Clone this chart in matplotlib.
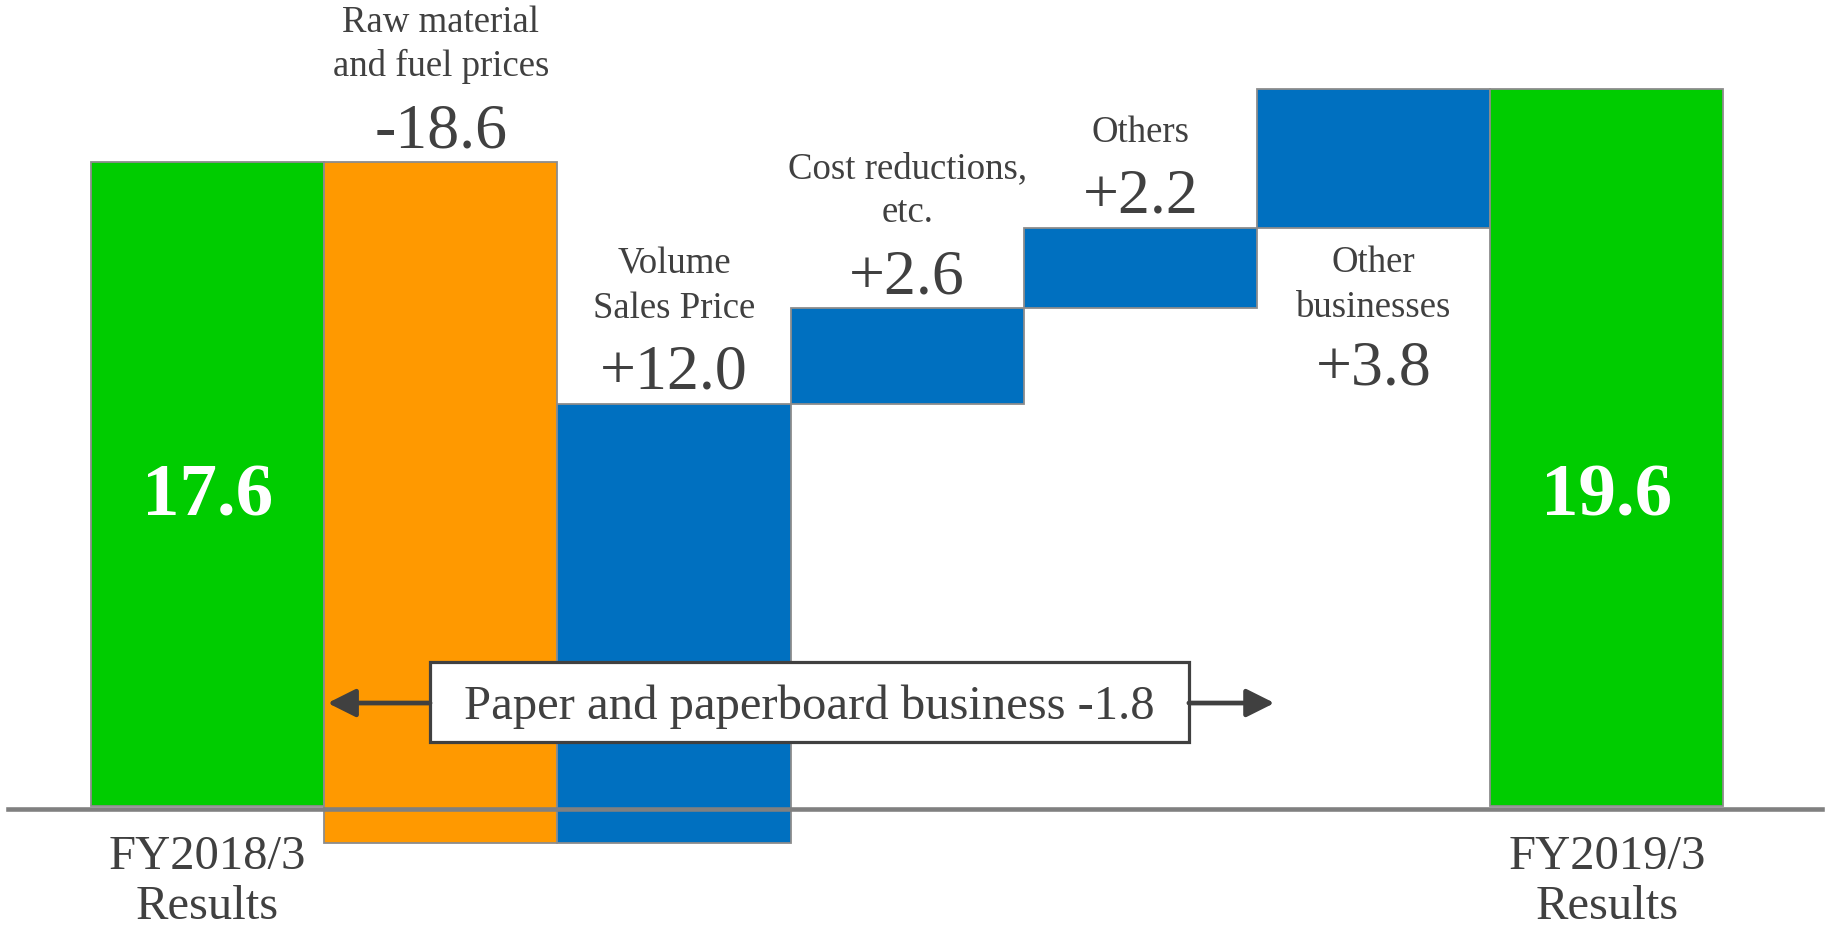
import matplotlib
matplotlib.use("Agg")
import matplotlib.pyplot as plt
from matplotlib.patches import Rectangle

# ------------------ DATA ------------------
start_value = 17.6
end_value = 19.6
start_label = ["FY2018/3", "Results"]
end_label = ["FY2019/3", "Results"]

step_values = [-18.6, 12.0, 2.6, 2.2, 3.8]
step_labels = [
    ["Raw material", "and fuel prices"],
    ["Volume", "Sales Price"],
    ["Cost reductions,", "etc."],
    ["Others"],
    ["Other", "businesses"],
]
# last step label sits under its bar
label_below = [False, False, False, False, True]

bracket_text = "Paper and paperboard business -1.8"

# ------------------ STYLE ------------------
GREEN = "#00CC00"
ORANGE = "#FF9900"
BLUE = "#0070C0"
TXT = "#404040"
EDGE = "#8c8c8c"
SERIF = ["Liberation Serif", "DejaVu Serif"]
PX = 0.72  # points per pixel at dpi 100

fig = plt.figure(figsize=(18.26, 9.31), dpi=100)
ax = fig.add_axes([0, 0, 1, 1])
ax.set_xlim(-0.890, 6.940)
ax.set_ylim(-3.416, 22.03)
ax.axis("off")

# ------------------ BARS ------------------
n = len(step_values)
xs = list(range(n + 2))
bottoms = [0]
heights = [start_value]
colors = [GREEN]
running = start_value
tops = []
lows = []
for v in step_values:
    new = running + v
    bottoms.append(min(running, new))
    heights.append(abs(v))
    colors.append(ORANGE if v < 0 else BLUE)
    tops.append(max(running, new))
    lows.append(min(running, new))
    running = new
bottoms.append(0)
heights.append(end_value)
colors.append(GREEN)

ax.bar(xs, heights, bottom=bottoms, width=1.0, color=colors,
       edgecolor=EDGE, linewidth=1.3, zorder=2)

# baseline
ax.axhline(-0.09, xmin=8 / 1826, xmax=1822 / 1826, color="#808080",
           lw=3.3, zorder=3)


def put(x, y, s, off_px, size, color=TXT, weight="normal"):
    ax.annotate(s, xy=(x, y), xytext=(0, off_px * PX), textcoords="offset points",
                ha="center", va="baseline", fontsize=size, color=color,
                fontweight=weight, family=SERIF, zorder=5)


# ------------------ STEP LABELS ------------------
for i, (v, lines, below) in enumerate(zip(step_values, step_labels, label_below)):
    x = i + 1
    val = f"{v:+.1f}"
    if below:
        y = lows[i]
        offs = [-44, -89]
        for line, off in zip(lines, offs):
            put(x, y, line, off, 26.5)
        put(x, y, val, -157, 46)
    else:
        y = tops[i]
        offs = [130, 86] if len(lines) == 2 else [86]
        for line, off in zip(lines, offs):
            put(x, y, line, off, 26.5)
        put(x, y, val, 15, 46)

# ------------------ TOTALS ------------------
put(0, start_value / 2, f"{start_value:.1f}", -31, 54, color="white", weight="bold")
put(n + 1, start_value / 2, f"{end_value:.1f}", -31, 54, color="white", weight="bold")

for x, lines in [(0, start_label), (n + 1, end_label)]:
    put(x, 0, lines[0], -63, 35)
    put(x, 0, lines[1], -113, 35)

# ------------------ BRACKET BOX ------------------
box_x0, box_x1 = 0.954, 4.208
box_y0, box_y1 = 1.749, 3.935
arrow_y = 2.815
ax.add_patch(Rectangle((box_x0, box_y0), box_x1 - box_x0, box_y1 - box_y0,
                       facecolor="white", edgecolor=TXT, lw=2.3, zorder=6))
ax.text((box_x0 + box_x1) / 2, 2.378, bracket_text, ha="center", va="baseline",
        fontsize=35, color=TXT, family=SERIF, zorder=7)

arrow_props = dict(arrowstyle="-|>,head_length=17,head_width=8.5", mutation_scale=1,
                   lw=3.4, color=TXT, shrinkA=0, shrinkB=0)
ax.annotate("", xy=(0.515, arrow_y), xytext=(box_x0, arrow_y),
            arrowprops=arrow_props, zorder=6)
ax.annotate("", xy=(4.575, arrow_y), xytext=(box_x1, arrow_y),
            arrowprops=arrow_props, zorder=6)

fig.savefig("out.png", dpi=100, facecolor="white")
